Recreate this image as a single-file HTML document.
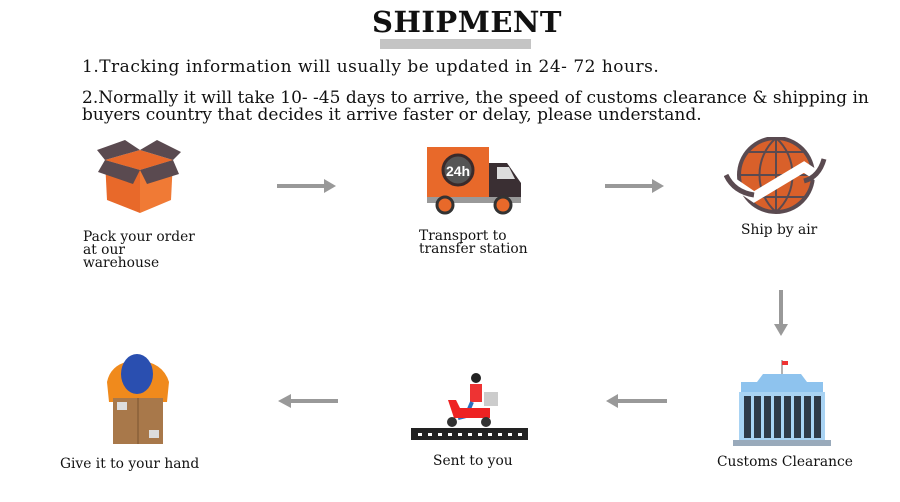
<!DOCTYPE html>
<html><head><meta charset="utf-8"><style>
body{margin:0;width:900px;height:502px;background:#fff;position:relative;overflow:hidden;font-family:"DejaVu Serif","Liberation Serif",serif;color:#111}
.a{position:absolute;white-space:nowrap}
.t{font-size:17px;line-height:17px}
.l{font-size:13.8px;line-height:13px}
svg{position:absolute}
</style></head><body>
<div class="a" style="left:372px;top:5px;font-size:29px;font-weight:bold;letter-spacing:0.5px">SHIPMENT</div>
<div class="a" style="left:380px;top:39px;width:151px;height:10px;background:#c4c4c4"></div>
<div class="a t" style="left:82px;top:59px;letter-spacing:0.5px">1.Tracking information will usually be updated in 24- 72 hours.</div>
<div class="a t" style="left:82px;top:90px">2.Normally it will take 10- -45 days to arrive, the speed of customs clearance &amp; shipping in</div>
<div class="a t" style="left:82px;top:107px">buyers country that decides it arrive faster or delay, please understand.</div>

<svg style="left:95px;top:138px" width="90" height="80"><polygon points="10,22 45,32 45,75 12,62" fill="#e8692a"/><polygon points="45,32 78,22 76,62 45,75" fill="#f07a35"/><polygon points="10,22 45,12 78,22 45,32" fill="#e8692a"/><polygon points="2,12 30,2 45,12 10,22" fill="#5a4a50"/><polygon points="45,12 62,2 86,14 78,22" fill="#5a4a50"/><polygon points="10,22 45,32 38,46 3,34" fill="#5a4a50"/><polygon points="45,32 78,22 84,36 52,46" fill="#5a4a50"/></svg>
<svg style="left:425px;top:145px" width="100" height="70"><rect x="2" y="2" width="62" height="50" fill="#e8692a"/><circle cx="33" cy="25" r="15" fill="#555" stroke="#3a2a2a" stroke-width="3"/><text x="33" y="31" font-size="14" fill="#fff" text-anchor="middle" font-family="Liberation Sans" font-weight="bold">24h</text><path d="M64 18 H82 L96 38 V52 H64Z" fill="#3a2f33"/><polygon points="72,22 84,22 90,34 72,34" fill="#ddd"/><rect x="2" y="52" width="94" height="6" fill="#999"/><circle cx="20" cy="60" r="8" fill="#e8692a" stroke="#333" stroke-width="3"/><circle cx="78" cy="60" r="8" fill="#e8692a" stroke="#333" stroke-width="3"/></svg>
<svg style="left:724px;top:137px" width="105" height="80"><circle cx="52" cy="38" r="37" fill="#d9602a" stroke="#5a4a50" stroke-width="4"/><path d="M52 1V75M15 38H89M25 15H80M25 60H80M52 1C30 20 30 56 52 75M52 1C74 20 74 56 52 75" stroke="#5a4a50" stroke-width="2" fill="none"/><path d="M8 45 L30 60 L80 30 L95 40" stroke="#fff" stroke-width="10" fill="none"/><path d="M2 38 Q10 55 30 58M100 22 Q95 40 80 44" stroke="#5a4a50" stroke-width="5" fill="none"/></svg>
<svg style="left:733px;top:360px" width="98" height="88"><line x1="49" y1="0" x2="49" y2="14" stroke="#666"/><rect x="49" y="1" width="6" height="4" fill="#e33"/><path d="M30 14 H68 L74 22 H24Z" fill="#8ec3ee"/><rect x="8" y="22" width="82" height="10" fill="#8ec3ee"/><rect x="6" y="32" width="86" height="48" fill="#a9d3f3"/><g fill="#2f3a48"><rect x="11" y="36" width="7" height="42"/><rect x="21" y="36" width="7" height="42"/><rect x="31" y="36" width="7" height="42"/><rect x="41" y="36" width="7" height="42"/><rect x="51" y="36" width="7" height="42"/><rect x="61" y="36" width="7" height="42"/><rect x="71" y="36" width="7" height="42"/><rect x="81" y="36" width="7" height="42"/></g><rect x="0" y="80" width="98" height="6" fill="#9ab"/></svg>
<svg style="left:410px;top:372px" width="120" height="70"><circle cx="66" cy="6" r="5" fill="#222"/><rect x="60" y="12" width="12" height="18" fill="#e33"/><rect x="74" y="20" width="14" height="14" fill="#ccc"/><path d="M62 30 L56 44 L48 46" stroke="#2a6fc0" stroke-width="4" fill="none"/><path d="M38 28 L44 46 H80 V36 H50 L46 28Z" fill="#e22"/><circle cx="42" cy="50" r="5" fill="#333"/><circle cx="76" cy="50" r="5" fill="#333"/><rect x="1" y="56" width="117" height="12" fill="#222"/><g fill="#fff"><rect x="8" y="61" width="4" height="3"/><rect x="18" y="61" width="4" height="3"/><rect x="28" y="61" width="4" height="3"/><rect x="38" y="61" width="4" height="3"/><rect x="48" y="61" width="4" height="3"/><rect x="58" y="61" width="4" height="3"/><rect x="68" y="61" width="4" height="3"/><rect x="78" y="61" width="4" height="3"/><rect x="88" y="61" width="4" height="3"/><rect x="98" y="61" width="4" height="3"/><rect x="108" y="61" width="4" height="3"/></g></svg>
<svg style="left:103px;top:352px" width="70" height="96"><path d="M4 30 Q8 10 34 8 Q60 10 66 30 L64 50 H6Z" fill="#f08a1c"/><ellipse cx="34" cy="22" rx="16" ry="20" fill="#2a4fb0"/><rect x="10" y="46" width="50" height="46" fill="#a8784a"/><line x1="35" y1="46" x2="35" y2="92" stroke="#7a5530"/><rect x="14" y="50" width="10" height="8" fill="#ddd"/><rect x="46" y="78" width="10" height="8" fill="#ddd"/></svg>

<svg style="left:0;top:0" width="900" height="502">
<g fill="#999" stroke="none">
<rect x="277" y="184" width="48" height="4"/><polygon points="324,179 336,186 324,193"/>
<rect x="605" y="184" width="48" height="4"/><polygon points="652,179 664,186 652,193"/>
<rect x="779" y="290" width="4" height="35"/><polygon points="774,324 781,336 788,324"/>
<rect x="617" y="399" width="50" height="4"/><polygon points="618,394 606,401 618,408"/>
<rect x="290" y="399" width="48" height="4"/><polygon points="291,394 278,401 291,408"/>
</g></svg>

<div class="a l" style="left:83px;top:231px">Pack your order<br>at our<br>warehouse</div>
<div class="a l" style="left:419px;top:230px">Transport to<br>transfer station</div>
<div class="a l" style="left:741px;top:224px">Ship by air</div>
<div class="a l" style="left:60px;top:458px">Give it to your hand</div>
<div class="a l" style="left:433px;top:455px">Sent to you</div>
<div class="a l" style="left:717px;top:456px">Customs Clearance</div>
</body></html>
